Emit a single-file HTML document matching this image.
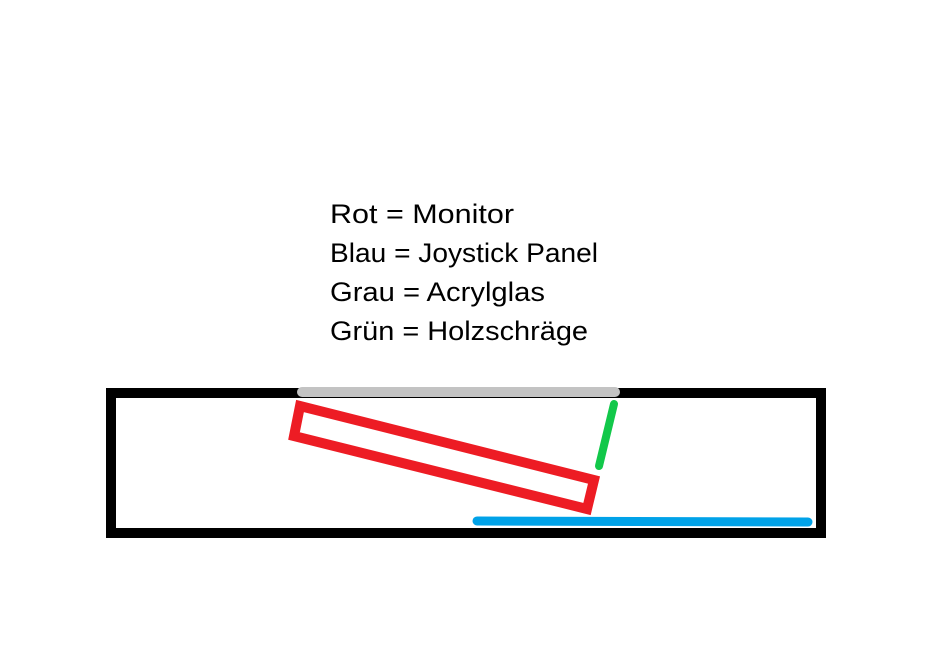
<!DOCTYPE html>
<html><head><style>
body{margin:0;width:941px;height:672px;background:#fff;overflow:hidden}
</style></head><body>
<svg width="941" height="672" xmlns="http://www.w3.org/2000/svg" style="position:absolute;left:0;top:0">
<g font-family="Liberation Sans, sans-serif" font-size="27" fill="#000">
<text x="330" y="223" textLength="184" lengthAdjust="spacingAndGlyphs">Rot = Monitor</text>
<text x="330" y="262" textLength="268" lengthAdjust="spacingAndGlyphs">Blau = Joystick Panel</text>
<text x="330" y="301" textLength="215" lengthAdjust="spacingAndGlyphs">Grau = Acrylglas</text>
<text x="330" y="340" textLength="258" lengthAdjust="spacingAndGlyphs">Grün = Holzschräge</text>
</g>
<rect x="111" y="393" width="710" height="140" fill="none" stroke="#000" stroke-width="10"/>
<line x1="302" y1="392" x2="615" y2="392" stroke="#c3c3c3" stroke-width="10" stroke-linecap="round"/>
<polygon points="300,406 594,480 587,509 294,436" fill="none" stroke="#ed1c24" stroke-width="10"/>
<line x1="614" y1="404" x2="599" y2="466" stroke="#12c84a" stroke-width="8" stroke-linecap="round"/>
<line x1="477" y1="521" x2="808" y2="522" stroke="#00a2e8" stroke-width="9" stroke-linecap="round"/>
</svg>
</body></html>
